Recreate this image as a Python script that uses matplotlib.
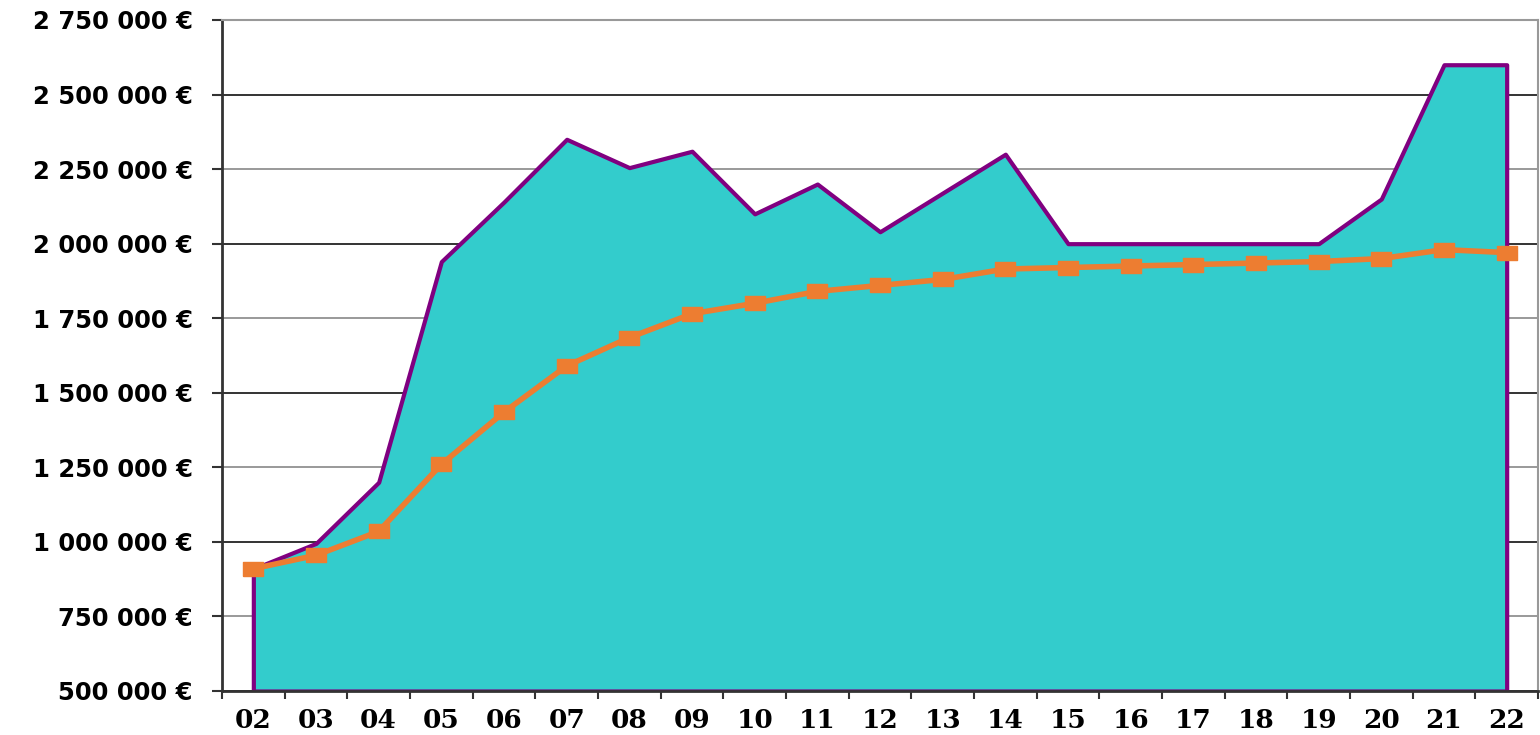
import matplotlib
matplotlib.use("Agg")
import matplotlib.pyplot as plt
import numpy as np

categories = ["02", "03", "04", "05", "06", "07", "08", "09", "10", "11", "12",
              "13", "14", "15", "16", "17", "18", "19", "20", "21", "22"]
area_values = [910000, 995000, 1200000, 1940000, 2140000, 2350000, 2255000, 2310000,
               2100000, 2200000, 2040000, 2170000, 2300000, 2000000, 2000000, 2000000,
               2000000, 2000000, 2150000, 2600000, 2600000]
line_values = [910000, 955000, 1035000, 1260000, 1435000, 1590000, 1685000, 1765000,
               1800000, 1840000, 1860000, 1880000, 1915000, 1920000, 1925000, 1930000,
               1935000, 1940000, 1950000, 1980000, 1970000]
y_ticks = [500000, 750000, 1000000, 1250000, 1500000, 1750000, 2000000, 2250000,
           2500000, 2750000]

fig = plt.figure(figsize=(15.4, 7.35), dpi=100)
ax = fig.add_axes([222/1540, 1-691/735, (1538-222)/1540, (691-20)/735])

x = np.arange(len(categories))
ymin, ymax = y_ticks[0], y_ticks[-1]

ax.set_xlim(-0.5, len(categories) - 0.5)
ax.set_ylim(ymin, ymax)

ax.set_yticks(y_ticks)
ax.set_yticklabels([f"{v:,.0f}".replace(",", " ") + " €" for v in y_ticks],
                   fontfamily="DejaVu Sans", fontweight="bold", fontsize=17.5)
ax.tick_params(axis="y", length=7, width=1.5, color="#333333", pad=14)

ax.yaxis.grid(True, linewidth=1.4)
for i, gl in enumerate(ax.get_ygridlines()):
    gl.set_color("#333333" if y_ticks[i] % 500000 == 0 else "#999999")
ax.set_axisbelow(True)

ax.fill_between(x, area_values, ymin, facecolor="#33CCCC", edgecolor="#800080",
                linewidth=3, zorder=2)

marker = [(-1, -0.7), (1, -0.7), (1, 0.7), (-1, 0.7), (-1, -0.7)]
ax.plot(x, line_values, color="#ED7D31", linewidth=4, marker=marker,
        markersize=15, markerfacecolor="#ED7D31", markeredgecolor="#ED7D31",
        zorder=3, clip_on=False)

ax.set_xticks(x)
ax.set_xticklabels(categories, fontfamily="DejaVu Serif", fontweight="bold",
                   fontsize=19)
ax.tick_params(axis="x", which="major", length=0, pad=12)
ax.set_xticks(np.arange(len(categories) + 1) - 0.5, minor=True)
ax.tick_params(axis="x", which="minor", length=6, width=1.5, color="#333333")

ax.spines["left"].set_color("#333333")
ax.spines["left"].set_linewidth(2)
ax.spines["bottom"].set_color("#333333")
ax.spines["bottom"].set_linewidth(2)
ax.spines["top"].set_color("#999999")
ax.spines["top"].set_linewidth(1.5)
ax.spines["right"].set_color("#999999")
ax.spines["right"].set_linewidth(1.5)

fig.savefig("out.png", dpi=100)
